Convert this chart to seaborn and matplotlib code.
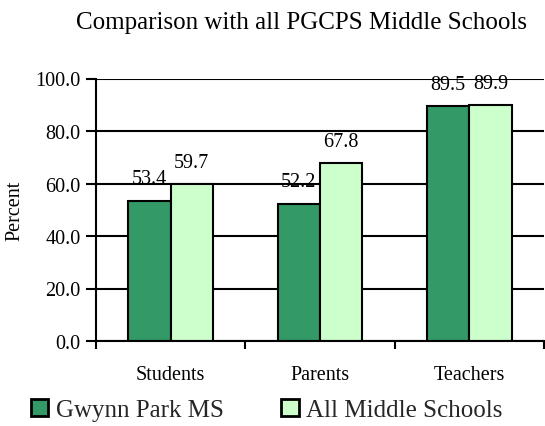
import matplotlib
matplotlib.use("Agg")
import matplotlib.pyplot as plt
import seaborn as sns
import pandas as pd
from matplotlib.ticker import FixedLocator
from matplotlib.patches import Patch

categories = ["Students", "Parents", "Teachers"]
series_names = ["Gwynn Park MS", "All Middle Schools"]
gwynn_park = [53.4, 52.2, 89.5]
all_middle = [59.7, 67.8, 89.9]
y_ticks = [0, 20, 40, 60, 80, 100]
colors = ["#339966", "#CCFFCC"]

df = pd.DataFrame({
    "Category": categories * 2,
    "Series": [series_names[0]] * 3 + [series_names[1]] * 3,
    "Percent": gwynn_park + all_middle,
})

sns.set_theme(style="white")
plt.rcParams["font.family"] = ["Liberation Serif", "DejaVu Serif"]

fig = plt.figure(figsize=(5.45, 4.27), dpi=100)
ax = fig.add_axes([96 / 545, 1 - 342 / 427, 448 / 545, 262.5 / 427])

sns.barplot(data=df, x="Category", y="Percent", hue="Series", order=categories,
            hue_order=series_names, palette=colors, width=0.567, gap=0,
            edgecolor="black", linewidth=1.5, saturation=1, ax=ax, legend=False)

for cont in ax.containers:
    ax.bar_label(cont, labels=[f"{v:.1f}" for v in cont.datavalues],
                 padding=9, fontsize=14.5, color="black")

ax.set_ylim(0, 100)
ax.set_xlim(-0.5, 2.5)
ax.set_yticks(y_ticks)
ax.set_yticklabels([f"{t:.1f}" for t in y_ticks], fontsize=14.5)
ax.yaxis.grid(True, color="black", linewidth=1.5)
ax.set_axisbelow(True)
ax.tick_params(axis="y", direction="out", length=7, width=1.5, pad=4, left=True, colors="black")
ax.tick_params(axis="x", which="major", length=0, pad=17, labelsize=14.5, colors="black")
ax.xaxis.set_minor_locator(FixedLocator([-0.5, 0.5, 1.5, 2.5]))
ax.tick_params(axis="x", which="minor", direction="out", length=6, width=1.5, bottom=True, color="black")
for s in ["top", "right"]:
    ax.spines[s].set_visible(False)
for s in ["left", "bottom"]:
    ax.spines[s].set_color("black")
    ax.spines[s].set_linewidth(1.5)
ax.set_xlabel("")
ax.set_ylabel("Percent", fontsize=14.5, color="black")
ax.yaxis.set_label_coords(-0.16, 0.5)

fig.text(0.553, 1 - 23 / 427, "Comparison with all PGCPS Middle Schools",
         ha="center", va="center", fontsize=18, color="black")

handles = [Patch(facecolor=c, edgecolor="black", linewidth=2) for c in colors]
fig.legend(handles, series_names, loc="center", bbox_to_anchor=(0.489, 1 - 411 / 427),
           ncol=2, frameon=False, fontsize=18, handlelength=0.7, handleheight=0.7,
           handletextpad=0.3, columnspacing=2.3, borderaxespad=0)

fig.savefig("out.png", dpi=100)
